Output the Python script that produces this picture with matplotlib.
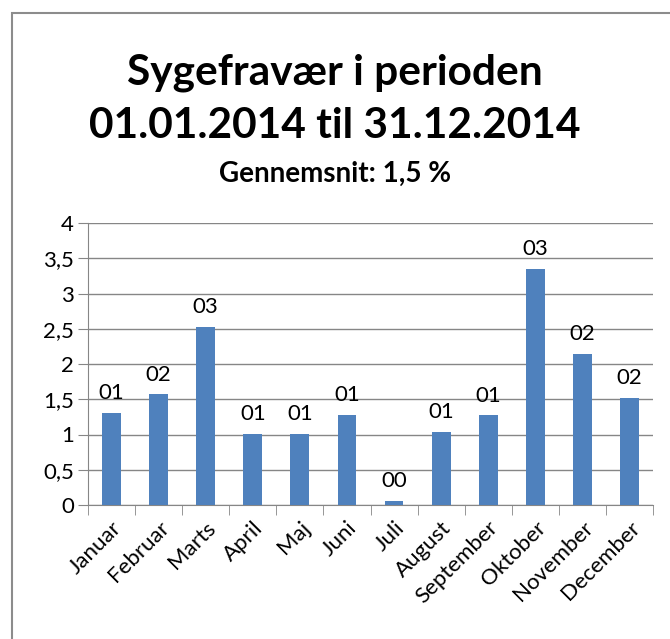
import matplotlib
matplotlib.use("Agg")
import matplotlib.pyplot as plt
from matplotlib.patches import Rectangle
from matplotlib.ticker import FuncFormatter, FixedLocator

plt.rcParams['font.family'] = ['Lato', 'DejaVu Sans']

# data
months = ['Januar', 'Februar', 'Marts', 'April', 'Maj', 'Juni', 'Juli',
          'August', 'September', 'Oktober', 'November', 'December']
fravaer = [1.31, 1.57, 2.53, 1.01, 1.01, 1.28, 0.06, 1.04, 1.27, 3.35, 2.14, 1.52]
title = 'Sygefravær i perioden\n01.01.2014 til 31.12.2014'
subtitle = 'Gennemsnit: 1,5 %'

fig = plt.figure(figsize=(6.7, 6.39), dpi=100)
W, H = 670, 639

# outer chart border (runs off the right/bottom edge like the original)
fig.patches.append(Rectangle((12 / W, -0.05), 1.1, 1 - 13 / H + 0.05,
                             transform=fig.transFigure, fill=False,
                             edgecolor='#8c8c8c', linewidth=1.5))

ax = fig.add_axes([88 / W, 1 - 505 / H, (653 - 88) / W, (505 - 223) / H])
x = range(len(months))
ax.bar(x, fravaer, width=0.4, color='#4F81BD', zorder=3)

for xi, v in zip(x, fravaer):
    ax.annotate(f'{round(v):02d}', (xi, v), xytext=(0, 7), textcoords='offset points',
                ha='center', va='bottom', fontsize=16)

ax.set_xlim(-0.5, len(months) - 0.5)
ax.set_ylim(0, 4)
ax.set_yticks([0, 0.5, 1, 1.5, 2, 2.5, 3, 3.5, 4])
ax.yaxis.set_major_formatter(FuncFormatter(lambda v, p: f'{v:g}'.replace('.', ',')))
ax.grid(axis='y', color='#868686', linewidth=1, zorder=0)
ax.tick_params(axis='y', length=7, color='#868686', labelsize=16, pad=3)

ax.set_xticks(list(x))
ax.set_xticklabels(months, rotation=45, ha='right', rotation_mode='anchor', fontsize=16)
ax.tick_params(axis='x', which='major', length=0, pad=9)
ax.xaxis.set_minor_locator(FixedLocator([i - 0.5 for i in range(len(months) + 1)]))
ax.tick_params(axis='x', which='minor', length=7, color='#868686')

for side in ['top', 'right']:
    ax.spines[side].set_visible(False)
for side in ['left', 'bottom']:
    ax.spines[side].set_color('#868686')

fig.text(0.5, 1 - 99 / H, title, ha='center', va='center', fontsize=30.5,
         fontweight='bold', linespacing=1.48)
fig.text(0.5, 1 - 174 / H, subtitle, ha='center', va='center', fontsize=20,
         fontweight='bold')

fig.savefig('out.png', dpi=100)
